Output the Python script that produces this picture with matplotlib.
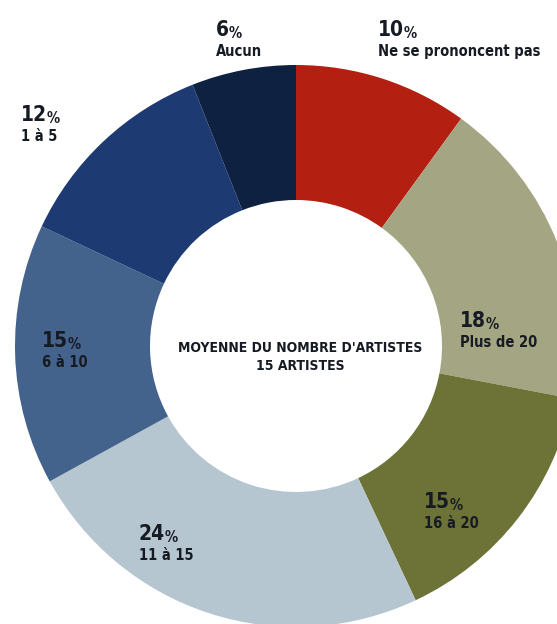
import matplotlib
matplotlib.use("Agg")
import matplotlib.pyplot as plt

# share of respondents by number of artists
categories = ["Ne se prononcent pas", "Plus de 20", "16 à 20", "11 à 15",
              "6 à 10", "1 à 5", "Aucun"]
shares = [10, 18, 15, 24, 15, 12, 6]
colors = ["#b31f10", "#a4a582", "#6d7337", "#b6c6d0", "#43628c", "#1d3b72", "#0f2140"]

center_lines = ["MOYENNE DU NOMBRE D'ARTISTES", "15 ARTISTES"]

W, H = 557, 624
FONT = ["Liberation Sans Narrow", "DejaVu Sans"]

fig = plt.figure(figsize=(W / 100, H / 100), dpi=100)
ax = fig.add_axes([0, 0, 1, 1])

cx, cy = 296, H - 346
r_out, r_in = 281, 146
ax.pie(shares, colors=colors, startangle=90, counterclock=False,
       radius=r_out, center=(cx, cy),
       wedgeprops=dict(width=r_out - r_in, linewidth=0))
ax.set_xlim(0, W)
ax.set_ylim(0, H)
ax.set_aspect("equal")
ax.axis("off")

# label anchors (top-left corner, in pixels from the top of the figure)
label_pos = {
    "Ne se prononcent pas": (378, 20),
    "Plus de 20": (460, 311),
    "16 à 20": (424, 492),
    "11 à 15": (139, 524),
    "6 à 10": (42, 331),
    "1 à 5": (21, 105),
    "Aucun": (216, 20),
}

ink = "#161a22"
for cat, val in zip(categories, shares):
    x, y = label_pos[cat]
    num = ax.text(x, H - y, f"{val}", ha="left", va="top", fontsize=15,
                  fontweight="bold", family=FONT, fontstretch="condensed",
                  color=ink)
    ax.annotate("%", xy=(0.97, 0.12), xycoords=num, ha="left", va="baseline",
                fontsize=10.5, fontweight="bold", family=FONT,
                fontstretch="condensed", color=ink)
    ax.text(x, H - y - 24, cat, ha="left", va="top", fontsize=10.5,
            fontweight="bold", family=FONT, fontstretch="condensed",
            color=ink)

ax.text(cx + 4, H - 341, center_lines[0], ha="center", va="top", fontsize=10,
        fontweight="bold", family=FONT, fontstretch="condensed", color=ink)
ax.text(cx + 4, H - 359, center_lines[1], ha="center", va="top", fontsize=10,
        fontweight="bold", family=FONT, fontstretch="condensed", color=ink)

fig.savefig("out.png", dpi=100, facecolor="white")
